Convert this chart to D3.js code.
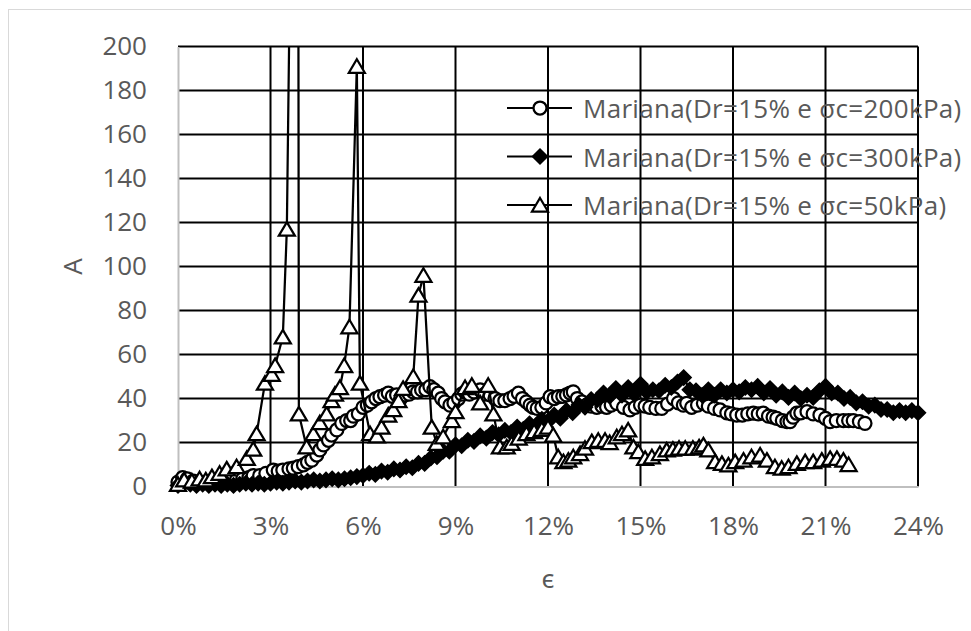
<!DOCTYPE html>
<html>
<head>
<meta charset="utf-8">
<script src="https://cdn.jsdelivr.net/npm/d3@7"></script>
<style>
  html, body { margin: 0; padding: 0; background: #fff; }
  svg { display: block; }
  text { font-family: "Open Sans", "Noto Sans", "DejaVu Sans", sans-serif; fill: #595959; }
</style>
</head>
<body>
<svg id="chart" width="971" height="631"></svg>
<script>
// Axis ticks
const xTicks = [0, 3, 6, 9, 12, 15, 18, 21, 24];
const yTicks = [0, 20, 40, 60, 80, 100, 120, 140, 160, 180, 200];
const legendLabels = [
  "Mariana(Dr=15% e σc=200kPa)",
  "Mariana(Dr=15% e σc=300kPa)",
  "Mariana(Dr=15% e σc=50kPa)"
];

// [strain %, A] for σc = 200 kPa (circles)
const series200 = [
  [0,2],[0.15,4],[0.3,3.5],[0.5,2.5],[0.7,2],[0.9,2],[1.1,2],[1.3,2.5],[1.5,2.5],[1.7,3],
  [1.9,3],[2.1,3.5],[2.3,4],[2.44,5],[2.65,5],[2.85,6],[3.09,7.5],[3.25,7],[3.4,7.5],[3.6,8],
  [3.74,8.3],[3.9,9],[4.07,9.8],[4.2,11],[4.34,12],[4.5,14.3],[4.6,16.6],[4.72,18.9],[4.88,21],[4.98,23.4],
  [5.15,25.7],[5.31,28.7],[5.47,30],[5.6,30],[5.69,32],[5.85,33],[6.0,36],[6.14,37],[6.28,38.5],[6.42,40],
  [6.55,40.8],[6.7,41.5],[6.82,42.4],[6.95,41],[7.09,41.6],[7.22,40],[7.36,41.6],[7.5,42],[7.63,43],[7.77,43],
  [7.9,43.9],[8.04,44],[8.17,45.4],[8.3,44],[8.44,42.4],[8.55,40],[8.66,38.5],[8.82,37],[8.95,38],[9.1,40],
  [9.2,42],[9.31,43],[9.45,42],[9.6,43],[9.8,43.9],[9.95,42],[10.12,41.6],[10.28,40],[10.44,39],[10.6,39],
  [10.77,40],[10.9,41],[11.04,42.4],[11.17,40],[11.3,38.5],[11.42,37],[11.52,36],[11.65,35.5],[11.8,36],[11.94,38],
  [12.07,40.8],[12.2,40],[12.34,40.8],[12.48,41],[12.6,41.6],[12.72,42.5],[12.82,43],[12.95,40],[13.1,38.5],[13.25,37],
  [13.4,36.5],[13.58,36],[13.75,36.5],[13.9,36],[14.05,37],[14.23,37.8],[14.45,36],[14.66,34.8],[14.83,36],[15.0,37],
  [15.15,36.5],[15.3,36],[15.5,35.5],[15.69,35.5],[15.88,37.5],[16.07,40],[16.23,38],[16.39,37],[16.5,37.8],[16.66,36],
  [16.85,37],[17.04,37.8],[17.2,36.5],[17.4,35.5],[17.58,34.8],[17.8,33.5],[17.95,33],[18.12,32.5],[18.3,32.5],[18.48,33],
  [18.66,33.3],[18.82,33],[18.98,33.3],[19.15,32],[19.3,31.5],[19.42,31],[19.6,30],[19.75,29.5],[19.85,29.5],[19.95,31.5],
  [20.07,33.3],[20.2,33.5],[20.4,34],[20.6,33],[20.82,32.5],[21.0,31],[21.15,29.5],[21.35,30],[21.58,30],[21.75,30],
  [21.9,30],[22.1,29.5],[22.28,28.7]
];

// [strain %, A] for σc = 300 kPa (diamonds)
const series300 = [
  [0,0.5],[0.2,1.5],[0.4,1],[0.6,0.5],[0.8,1],[1.0,0.5],[1.2,1],[1.4,0.5],[1.6,1],[1.8,0.5],
  [2.0,1],[2.2,1.5],[2.4,1],[2.6,1.5],[2.8,1],[3.0,1.5],[3.2,2],[3.4,1.5],[3.6,2],[3.8,2.5],
  [4.0,2],[4.2,2.5],[4.4,3],[4.6,2.5],[4.8,3],[5.0,3.5],[5.2,3],[5.4,3.5],[5.6,4],[5.8,4.5],
  [6.0,5],[6.2,6],[6.4,5.5],[6.6,7],[6.8,6.5],[7.0,8],[7.2,7.5],[7.4,9],[7.6,8.5],[7.8,10.5],
  [8.0,10.5],[8.2,13],[8.4,13.5],[8.6,16],[8.8,16],[9.0,19],[9.2,18.5],[9.4,21],[9.6,20.5],[9.8,23],
  [10.0,22],[10.2,24.5],[10.4,23.5],[10.6,25.5],[10.8,24.5],[11.0,27],[11.2,26],[11.4,28.5],[11.6,27.5],[11.8,30.5],
  [12.0,29.5],[12.2,32.5],[12.4,31],[12.6,34.5],[12.8,33.5],[13.0,37],[13.2,36],[13.4,39.5],[13.6,39.5],[13.8,42.5],
  [14.0,41],[14.2,44.5],[14.4,41.5],[14.6,45],[14.8,42],[15.0,46.5],[15.2,43],[15.4,44],[15.6,43.5],[15.8,46],
  [16.0,45],[16.2,47.5],[16.4,49.5],[16.6,44],[16.8,43.5],[17.0,41.5],[17.2,44],[17.4,41.5],[17.6,44],[17.8,42.5],
  [18.0,44],[18.2,43],[18.4,45],[18.6,44],[18.8,45.5],[19.0,42.5],[19.2,44.5],[19.4,41.5],[19.6,43],[19.8,40.5],
  [20.0,42.5],[20.2,40],[20.4,41.5],[20.6,40.5],[20.8,43.5],[21.0,45.5],[21.2,42.5],[21.4,42.5],[21.6,40],[21.8,40.5],
  [22.0,38],[22.2,38.5],[22.4,36.5],[22.6,37],[22.8,35],[23.0,35],[23.2,33.5],[23.4,34.5],[23.6,33.5],[23.8,34.5],
  [24.0,33.5]
];

// [strain %, A] for σc = 50 kPa (triangles)
const series50 = [
  [0,1],[0.2,3],[0.45,2.5],[0.7,3.5],[0.9,3],[1.1,4.5],[1.35,6],[1.58,8],[1.9,9],[2.23,12.8],
  [2.44,17],[2.55,24],[2.82,47],[3.04,51],[3.15,55],[3.4,68],[3.53,117],[3.88,520],[3.92,33],[4.17,18],
  [4.39,24],[4.6,29],[4.82,33],[4.98,39],[5.09,42],[5.25,45],[5.39,55],[5.56,72.6],[5.8,191],[5.9,47],
  [6.23,24],[6.45,23],[6.6,27],[6.82,32.5],[6.98,35],[7.15,39],[7.3,44.6],[7.63,50],[7.8,87],[7.96,96],
  [8.23,27],[8.39,19.6],[8.6,22.6],[8.88,30],[9.0,34],[9.31,45],[9.53,46],[9.8,38],[10.06,46],[10.23,33],
  [10.44,18],[10.66,18],[10.82,19.6],[11.05,22],[11.3,24],[11.55,25],[11.8,26],[12.0,27],[12.17,23.4],[12.33,13.5],
  [12.5,11.3],[12.66,12],[12.82,13.5],[13.04,15],[13.2,17.4],[13.42,20.4],[13.63,21],[13.85,21],[14.0,20],[14.23,22.6],
  [14.4,24],[14.6,25.7],[14.77,18],[14.93,15.8],[15.15,12.8],[15.37,13.5],[15.63,15],[15.85,16.6],[16.05,17],[16.25,17.4],
  [16.45,17.4],[16.7,17.4],[16.9,18],[17.04,18.9],[17.2,16.6],[17.42,11.3],[17.64,10.5],[17.85,9.8],[18.07,11.3],[18.34,12],
  [18.6,13.5],[18.88,14.3],[19.1,12],[19.36,9],[19.58,8.3],[19.8,9],[20.07,10.5],[20.34,11.3],[20.6,11.3],[20.88,12],
  [21.15,12.8],[21.37,12.8],[21.58,12],[21.75,10]
];

const svg = d3.select("#chart");
const plot = { left: 178, right: 918, top: 46.5, bottom: 486.5 };
const x = d3.scaleLinear().domain([0, 24]).range([plot.left, plot.right]);
const y = d3.scaleLinear().domain([0, 200]).range([plot.bottom, plot.top]);

// chart area frame
svg.append("rect")
  .attr("x", 8.5).attr("y", 9.5).attr("width", 1100).attr("height", 800)
  .attr("fill", "none").attr("stroke", "#d9d9d9").attr("stroke-width", 1);

// gridlines
const grid = svg.append("g");
grid.selectAll("line.h").data(yTicks.filter(d => d > 0)).join("line")
  .attr("x1", plot.left).attr("x2", plot.right)
  .attr("y1", d => y(d)).attr("y2", d => y(d))
  .attr("stroke", "#000").attr("stroke-width", 2);
grid.selectAll("line.v").data(xTicks.filter(d => d > 0)).join("line")
  .attr("x1", d => x(d)).attr("x2", d => x(d))
  .attr("y1", plot.top).attr("y2", plot.bottom)
  .attr("stroke", "#000").attr("stroke-width", 2);

// axes
const yAxis = svg.append("g").attr("transform", `translate(${plot.left},0)`)
  .call(d3.axisLeft(y).tickValues(yTicks).tickSize(0).tickPadding(31));
const xAxis = svg.append("g").attr("transform", `translate(0,${plot.bottom})`)
  .call(d3.axisBottom(x).tickValues(xTicks).tickFormat(d => d + "%").tickSize(0).tickPadding(30));
[yAxis, xAxis].forEach(g => {
  g.select(".domain").attr("stroke", "#bfbfbf").attr("stroke-width", 2);
  g.selectAll("text").attr("font-size", 26).attr("fill", "#595959")
    .style("font-family", '"Open Sans","Noto Sans","DejaVu Sans",sans-serif');
});

// axis titles
svg.append("g").attr("transform", "translate(72,266.5)")
  .append("text").attr("transform", "rotate(-90)")
  .attr("text-anchor", "middle").attr("dominant-baseline", "central")
  .attr("font-size", 26).text("A");
svg.append("text").attr("x", 548).attr("y", 588)
  .attr("text-anchor", "middle").attr("font-size", 26).text("ϵ");

// marker shapes
const triPath = "M0,-7L8,6.5L-8,6.5Z";
const diaPath = "M0,-7.5L7.5,0L0,7.5L-7.5,0Z";
const markers = [
  { data: series200, draw: g => g.append("circle").attr("r", 6.5).attr("fill", "#fff").attr("stroke", "#000").attr("stroke-width", 2.25) },
  { data: series300, draw: g => g.append("path").attr("d", diaPath).attr("fill", "#000").attr("stroke", "#000").attr("stroke-width", 1.5) },
  { data: series50,  draw: g => g.append("path").attr("d", triPath).attr("fill", "#fff").attr("stroke", "#000").attr("stroke-width", 2.25) }
];

svg.append("clipPath").attr("id", "plotClip").append("rect")
  .attr("x", plot.left).attr("y", plot.top)
  .attr("width", plot.right - plot.left).attr("height", plot.bottom - plot.top);

const line = d3.line().x(d => x(d[0])).y(d => y(d[1]));

markers.forEach(s => {
  const g = svg.append("g");
  g.append("path").datum(s.data).attr("d", line)
    .attr("fill", "none").attr("stroke", "#000").attr("stroke-width", 2.25)
    .attr("clip-path", "url(#plotClip)");
  g.selectAll("g.m").data(s.data.filter(d => d[1] <= 200)).join("g")
    .attr("transform", d => `translate(${x(d[0])},${y(d[1])})`)
    .each(function () { s.draw(d3.select(this)); });
});

// legend
const legendRows = [108, 156.5, 205];
legendLabels.forEach((label, i) => {
  const g = svg.append("g").attr("transform", `translate(0,${legendRows[i]})`);
  g.append("line").attr("x1", 507).attr("x2", 572).attr("y1", 0).attr("y2", 0)
    .attr("stroke", "#000").attr("stroke-width", 2);
  const mg = g.append("g").attr("transform", "translate(540,0)");
  markers[i].draw(mg);
  g.append("text").attr("x", 583).attr("y", 0).attr("dominant-baseline", "central")
    .attr("font-size", 26).style("letter-spacing", "0.3px").text(label);
});
</script>
</body>
</html>
